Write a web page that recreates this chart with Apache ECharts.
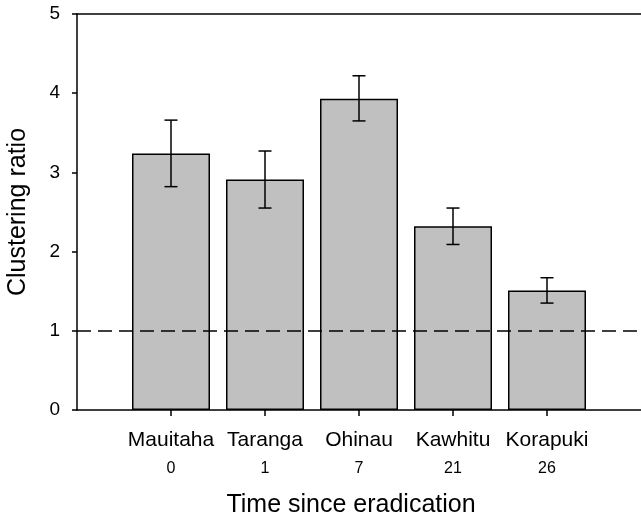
<!DOCTYPE html>
<html>
<head>
<meta charset="utf-8">
<script src="https://cdn.jsdelivr.net/npm/echarts@6/dist/echarts.min.js"></script>
<style>
  html, body { margin: 0; padding: 0; background: #fff; }
  #chart { width: 641px; height: 517px; }
</style>
</head>
<body>
<div id="chart"></div>
<script>
const islands = ['Mauitaha', 'Taranga', 'Ohinau', 'Kawhitu', 'Korapuki'];
const yearsSince = ['0', '1', '7', '21', '26'];
const ratio = [3.24, 2.91, 3.93, 2.32, 1.51];
const errLow = [2.82, 2.55, 3.65, 2.09, 1.35];
const errHigh = [3.66, 3.27, 4.22, 2.55, 1.67];
const yTicks = [0, 1, 2, 3, 4, 5];

const font = 'Liberation Sans, Arial, Helvetica, sans-serif';
const positions = islands.map((_, i) => i);

const chart = echarts.init(document.getElementById('chart'));

const option = {
  animation: false,
  grid: { left: 77, right: 0, top: 14, bottom: 107, containLabel: false, outerBoundsMode: 'none' },
  xAxis: [
    {
      type: 'value',
      min: -1,
      max: 5,
      interval: 1,
      name: 'Time since eradication',
      nameLocation: 'middle',
      nameGap: 83,
      nameTextStyle: { fontFamily: font, fontSize: 25, color: '#000', padding: [0, 16, 0, 0] },
      axisLine: { show: true, onZero: false, lineStyle: { color: '#000', width: 1.5 } },
      axisTick: { show: true, length: 6, customValues: positions, lineStyle: { color: '#000', width: 1.5 } },
      axisLabel: {
        customValues: positions,
        margin: 17,
        formatter: v => '{n|' + islands[v] + '}\n{v|' + yearsSince[v] + '}',
        rich: {
          n: { fontFamily: font, fontSize: 21, color: '#000', lineHeight: 26 },
          v: { fontFamily: font, fontSize: 16, color: '#000', lineHeight: 32 }
        }
      },
      splitLine: { show: false }
    },
    {
      type: 'value',
      position: 'top',
      min: -1,
      max: 5,
      axisLine: { show: true, onZero: false, lineStyle: { color: '#000', width: 1.5 } },
      axisTick: { show: false },
      axisLabel: { show: false },
      splitLine: { show: false }
    }
  ],
  yAxis: {
    type: 'value',
    min: 0,
    max: 5,
    interval: 1,
    name: 'Clustering ratio',
    nameLocation: 'middle',
    nameGap: 46,
    nameTextStyle: { fontFamily: font, fontSize: 25, color: '#000' },
    axisLine: { show: true, onZero: false, lineStyle: { color: '#000', width: 1.5 } },
    axisTick: { show: true, length: 5, lineStyle: { color: '#000', width: 1.5 } },
    axisLabel: { fontFamily: font, fontSize: 19, color: '#000', margin: 17 },
    splitLine: { show: false },
    data: yTicks
  },
  series: [
    {
      type: 'bar',
      barWidth: 78,
      data: positions.map(i => [i, ratio[i]]),
      itemStyle: { color: '#c0c0c0', borderColor: '#000', borderWidth: 1.5 },
      markLine: {
        silent: true,
        symbol: 'none',
        label: { show: false },
        lineStyle: { color: '#000', width: 1.5, type: [14, 7] },
        data: [{ yAxis: 1 }]
      }
    },
    {
      type: 'custom',
      data: positions.map(i => [i, errLow[i], errHigh[i]]),
      renderItem: function (params, api) {
        const x = api.value(0);
        const lo = api.coord([x, api.value(1)]);
        const hi = api.coord([x, api.value(2)]);
        const cap = 6.5;
        const style = { stroke: '#000', lineWidth: 1.5 };
        return {
          type: 'group',
          children: [
            { type: 'line', shape: { x1: lo[0], y1: lo[1], x2: hi[0], y2: hi[1] }, style: style },
            { type: 'line', shape: { x1: hi[0] - cap, y1: hi[1], x2: hi[0] + cap, y2: hi[1] }, style: style },
            { type: 'line', shape: { x1: lo[0] - cap, y1: lo[1], x2: lo[0] + cap, y2: lo[1] }, style: style }
          ]
        };
      },
      z: 5
    }
  ]
};

chart.setOption(option);
</script>
</body>
</html>
